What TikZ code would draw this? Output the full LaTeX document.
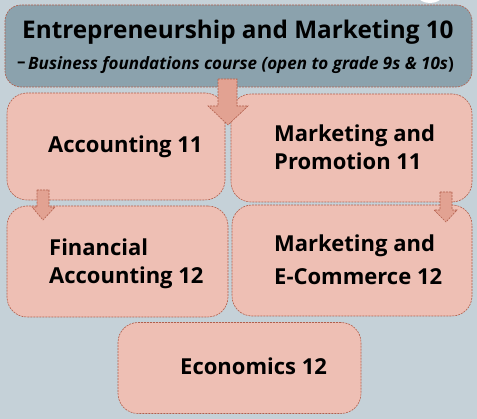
\documentclass[tikz,border=0pt]{standalone}
\usepackage{fontspec}
\setmainfont{Open Sans}
\usetikzlibrary{positioning}

\definecolor{slidegray}{HTML}{C5D1D8}
\definecolor{headblue}{HTML}{8BA2AD}
\definecolor{coursepink}{HTML}{EEBFB4}
\definecolor{arrowpink}{HTML}{E2A292}
\definecolor{edgered}{HTML}{B25F4C}

\tikzset{
	dashedge/.style = {draw = edgered, dash pattern = on 2pt off 1pt, line width = 0.6pt},
	headbox/.style = {dashedge, fill = headblue, rounded corners = 16pt, minimum width = 467pt, minimum height = 82pt, inner sep = 0pt},
	coursebox/.style = {dashedge, fill = coursepink, rounded corners = 20pt, inner sep = 0pt},
	blockarrow/.style = {dashedge, fill = arrowpink},
	coursetext/.style = {font = \fontsize{22}{28}\selectfont\bfseries, inner sep = 0pt, anchor = base west},
	notetext/.style = {font = \fontsize{17}{20}\selectfont\bfseries, inner sep = 0pt, anchor = base west},
}

\begin{document}
\begin{tikzpicture}[x = 1pt, y = -1pt]
					\useasboundingbox [fill = slidegray] (0, 0) rectangle (477, 419);
					\fill [white] (430, -4) ellipse (12pt and 7pt);
					% top course
					\node (entre) [headbox] at (238.5, 46) {};
					\node (entretitle) [coursetext, font = \fontsize{24.3}{28}\selectfont\bfseries] at (22, 39) {Entrepreneurship and Marketing 10};
					\node (entredash) [notetext] at (17, 68) {–};
					\node (entrenote) [notetext, font = \fontsize{17}{20}\selectfont\bfseries\itshape] at (28, 70) {Business foundations course (open to grade 9s \& 10s\upshape)};
					% grade 11
					\node (acc) [coursebox, minimum width = 218pt, minimum height = 107pt] at (116, 146.5) {};
					\node (mkp) [coursebox, minimum width = 241pt, minimum height = 108pt] at (351.5, 148) {};
					\node (acctext) [coursetext] at (48, 153) {Accounting 11};
					\node (mkptext1) [coursetext] at (274, 142) {Marketing and};
					\node (mkptext2) [coursetext] at (274, 170) {Promotion 11};
					% grade 12
					\node (facc) [coursebox, minimum width = 221pt, minimum height = 111pt] at (117.5, 261.5) {};
					\node (mke) [coursebox, minimum width = 240pt, minimum height = 111pt] at (352, 260.5) {};
					\node (facctext1) [coursetext] at (49, 256) {Financial};
					\node (facctext2) [coursetext] at (49, 284) {Accounting 12};
					\node (mketext1) [coursetext] at (274, 252) {Marketing and};
					\node (mketext2) [coursetext] at (274, 285) {E-Commerce 12};
					\node (econ) [coursebox, minimum width = 243pt, minimum height = 91pt] at (239.5, 368) {};
					\node (econtext) [coursetext] at (180, 375) {Economics 12};
					% block arrows
					\draw [blockarrow] (218, 79) -- (237, 79) -- (237, 106) -- (248, 106) -- (228, 125) -- (208, 106) -- (218, 106) -- cycle;
					\draw [blockarrow] (37, 190) -- (49, 190) -- (49, 207) -- (55, 207) -- (43, 220) -- (32, 207) -- (37, 207) -- cycle;
					\draw [blockarrow] (440, 192) -- (452, 192) -- (452, 210) -- (457, 210) -- (446, 222) -- (434, 210) -- (440, 210) -- cycle;
				\end{tikzpicture}
\end{document}
